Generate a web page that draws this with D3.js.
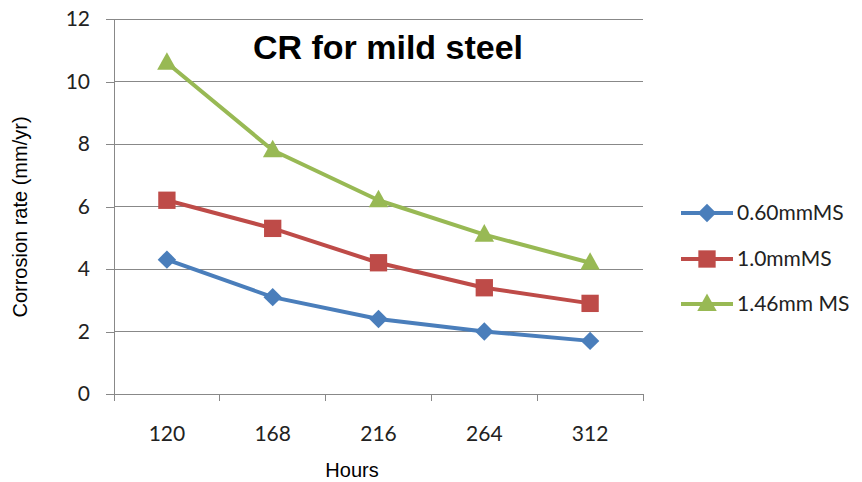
<!DOCTYPE html>
<html><head><meta charset="utf-8">
<script src="https://cdn.jsdelivr.net/npm/d3@7"></script>
<style>body{margin:0;background:#fff}svg{display:block}</style>
</head><body><svg id="c" width="862" height="482"></svg>
<script>
const categories = ["120","168","216","264","312"];
const seriesNames = ["0.60mmMS","1.0mmMS","1.46mm MS"];
const s1 = [4.3,3.1,2.4,2.0,1.7];
const s2 = [6.2,5.3,4.2,3.4,2.9];
const s3 = [10.6,7.8,6.2,5.1,4.2];
const yTicks = [0,2,4,6,8,10,12];
const colors = ["#4A7EBB","#BE4B48","#98B954"];

// custom symbols
const diamond = {draw(ctx, size){const r=Math.sqrt(size/2);ctx.moveTo(0,-r);ctx.lineTo(r,0);ctx.lineTo(0,r);ctx.lineTo(-r,0);ctx.closePath();}};
const square = {draw(ctx, size){const r=Math.sqrt(size)/2;ctx.rect(-r,-r,2*r,2*r);}};
const tri = {draw(ctx, size){const w=Math.sqrt(size);const h=w*0.9;ctx.moveTo(0,-h*0.6);ctx.lineTo(w/2,h*0.4);ctx.lineTo(-w/2,h*0.4);ctx.closePath();}};
const shapes = [diamond, square, tri];
const symSizes = [170,300,380];

const svg = d3.select("#c");
const L=114, R=643, T=19, B=394;
const x = d3.scaleBand().domain(categories).range([L,R]);
const y = d3.scaleLinear().domain([0,12]).range([B,T]);
const font = "Lato, 'Open Sans', sans-serif";
const arial = "'Liberation Sans', Arial, sans-serif";
const gray = "#888";

// gridlines
svg.append("g").selectAll("line").data(yTicks.filter(d=>d>0)).join("line")
  .attr("x1",L).attr("x2",R).attr("y1",d=>y(d)).attr("y2",d=>y(d))
  .attr("stroke",gray).attr("stroke-width",1).attr("shape-rendering","crispEdges");

// y axis
const ya = svg.append("g").attr("transform",`translate(${L},0)`)
  .call(d3.axisLeft(y).tickValues(yTicks).tickSize(8).tickPadding(16).tickFormat(d3.format("d")));
ya.select(".domain").attr("stroke",gray).attr("shape-rendering","crispEdges");
ya.selectAll(".tick line").attr("stroke",gray).attr("shape-rendering","crispEdges");
ya.selectAll("text").attr("font-family",font).attr("font-size",21).attr("fill","#222");

// x axis
const xa = svg.append("g").attr("transform",`translate(0,${B})`)
  .call(d3.axisBottom(x).tickSize(0).tickPadding(32));
xa.select(".domain").attr("stroke",gray).attr("shape-rendering","crispEdges");
xa.selectAll("text").attr("font-family",font).attr("font-size",21).attr("fill","#222");
const bounds = categories.map(c=>x(c)).concat([R]);
svg.append("g").selectAll("line").data(bounds).join("line")
  .attr("x1",d=>d).attr("x2",d=>d).attr("y1",B).attr("y2",B+7)
  .attr("stroke",gray).attr("shape-rendering","crispEdges");

// series
const all = [s1,s2,s3];
const line = d3.line().x((d,i)=>x(categories[i])+x.bandwidth()/2).y(d=>y(d));
all.forEach((s,k)=>{
  svg.append("path").datum(s).attr("d",line).attr("fill","none")
    .attr("stroke",colors[k]).attr("stroke-width",4).attr("stroke-linejoin","round");
  svg.append("g").selectAll("path").data(s).join("path")
    .attr("d",d3.symbol().type(shapes[k]).size(symSizes[k]))
    .attr("transform",(d,i)=>`translate(${x(categories[i])+x.bandwidth()/2},${y(d)})`)
    .attr("fill",colors[k]);
});

// title
svg.append("text").attr("x",388).attr("y",59).attr("text-anchor","middle")
  .attr("font-family",arial).attr("font-weight","bold")
  .attr("font-size",34).attr("fill","#000").text("CR for mild steel");

// axis titles
svg.append("text").attr("x",352).attr("y",477).attr("text-anchor","middle")
  .attr("font-family",arial).attr("font-size",20).text("Hours");
svg.append("text").attr("transform","translate(27,217) rotate(-90)").attr("text-anchor","middle")
  .attr("font-family",arial).attr("font-size",20).text("Corrosion rate (mm/yr)");

// legend
const ly = [213,259,304];
seriesNames.forEach((n,k)=>{
  const g = svg.append("g");
  g.append("line").attr("x1",681).attr("x2",733).attr("y1",ly[k]).attr("y2",ly[k])
    .attr("stroke",colors[k]).attr("stroke-width",4);
  g.append("path").attr("d",d3.symbol().type(shapes[k]).size(symSizes[k]))
    .attr("transform",`translate(707,${ly[k]})`).attr("fill",colors[k]);
  g.append("text").attr("x",737).attr("y",ly[k]).attr("dy","0.35em")
    .attr("font-family",font).attr("font-size",21).attr("fill","#222").text(n);
});
</script></body></html>
